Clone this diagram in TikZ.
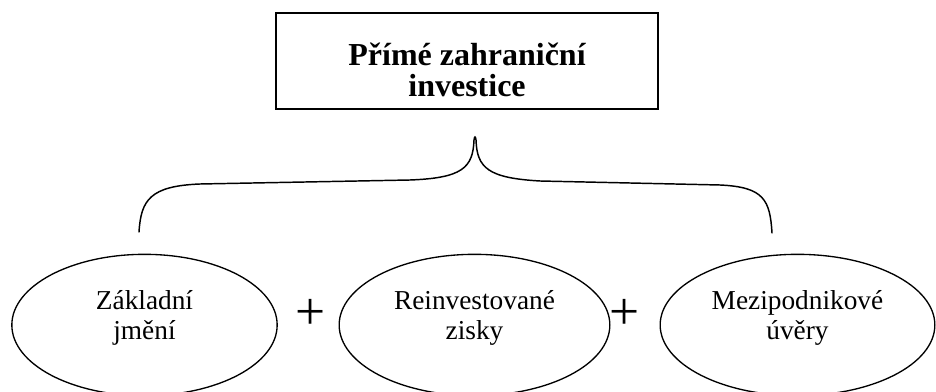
\documentclass[tikz,border=0pt]{standalone}
\usepackage{fontspec}
\setmainfont{Liberation Serif}
\usetikzlibrary{shapes.geometric}

\begin{document}
\begin{tikzpicture}[
    x=0.75pt, y=-0.75pt,
    headbox/.style={draw, line width=1.5pt, minimum width=287pt, minimum height=72pt},
    headtext/.style={align=center, inner sep=0pt, yshift=-6.5pt, font=\fontsize{24}{23}\selectfont\bfseries},
    part/.style={ellipse, draw, line width=1pt, minimum width=202pt, minimum height=106pt},
    parttext/.style={align=center, inner sep=0pt, yshift=5pt, font=\fontsize{20.5}{22.5}\selectfont},
    plus/.style={inner sep=0pt, font=\fontsize{40}{40}\selectfont},
    brace/.style={line width=1.1pt, line cap=round}
]
   \useasboundingbox (0,0) rectangle (936,392);

   % Heading
   \node[headbox, label={[headtext]center:{Přímé zahraniční\\investice}}] (fdi) at (467,61.5) {};

   % Brace
   \draw[brace] (139,232) .. controls (141,200) and (150,186) .. (200,184)
       -- (410,180)
       .. controls (462,178) and (473,168) .. (474,140)
       .. controls (474.5,136) and (475.5,136) .. (476,140)
       .. controls (477,168) and (488,178) .. (540,181)
       -- (720,185)
       .. controls (764,187) and (770,200) .. (772,233);

   % Components
   \node[part, minimum width=199pt, label={[parttext]center:{Základní\\jmění}}] (equity) at (144.5,325) {};
   \node[part, minimum width=203pt, label={[parttext]center:{Reinvestované\\zisky}}] (reinv) at (474.5,325) {};
   \node[part, minimum width=206pt, label={[parttext]center:{Mezipodnikové\\úvěry}}] (loans) at (797.5,325) {};

   \node[plus] (p1) at (310.5,314) {+};
   \node[plus] (p2) at (625,314) {+};
\end{tikzpicture}
\end{document}
